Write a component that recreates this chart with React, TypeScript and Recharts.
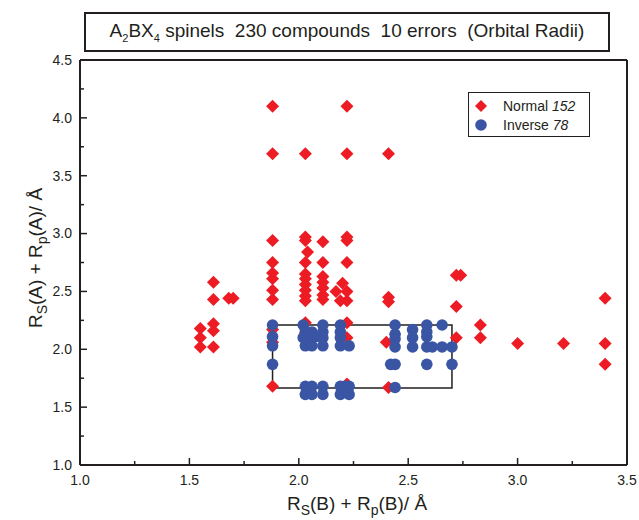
import {
  ScatterChart,
  Scatter,
  XAxis,
  YAxis,
  ReferenceArea,
  Legend
} from 'recharts';

// R_s(B) + R_p(B) (x) and R_s(A) + R_p(A) (y) for each compound, in Å
const normalB = [
  1.55, 1.55, 1.55,
  1.61, 1.61, 1.61, 1.61, 1.61,
  1.68, 1.70,
  1.88, 1.88, 1.88, 1.88, 1.88, 1.88, 1.88, 1.88, 1.88, 1.88, 1.88,
  2.03, 2.03, 2.03, 2.04, 2.03, 2.03, 2.03, 2.03, 2.03, 2.03, 2.03, 2.03, 2.03,
  2.11, 2.11, 2.11, 2.11, 2.11, 2.11, 2.11,
  2.22, 2.22, 2.22, 2.22, 2.22, 2.20, 2.22, 2.22, 2.22, 2.22, 2.22,
  2.17, 2.19,
  2.41, 2.41, 2.41, 2.40, 2.41,
  2.72, 2.74, 2.72, 2.72,
  2.83, 2.83,
  3.00, 3.21,
  3.40, 3.40, 3.40
];
const normalA = [
  2.18, 2.10, 2.02,
  2.58, 2.43, 2.22, 2.16, 2.02,
  2.44, 2.44,
  4.10, 3.69, 2.94, 2.75, 2.66, 2.61, 2.51, 2.43, 2.17, 2.06, 1.68,
  3.69, 2.97, 2.94, 2.84, 2.75, 2.65, 2.61, 2.56, 2.51, 2.46, 2.42, 2.23, 2.14,
  2.93, 2.75, 2.63, 2.58, 2.53, 2.47, 2.43,
  4.10, 3.69, 2.97, 2.94, 2.75, 2.57, 2.50, 2.42, 2.23, 2.10, 1.70,
  2.50, 2.42,
  3.69, 2.45, 2.41, 2.06, 1.67,
  2.64, 2.64, 2.37, 2.10,
  2.21, 2.10,
  2.05, 2.05,
  2.44, 2.05, 1.87
];

const inverseB = [
  1.88, 1.88, 1.88, 1.88,
  2.02, 2.03, 2.02, 2.03, 2.03, 2.03,
  2.06, 2.06, 2.06, 2.06, 2.06,
  2.08,
  2.11, 2.11, 2.11, 2.11, 2.11, 2.11,
  2.19, 2.19, 2.19, 2.19, 2.19, 2.19,
  2.23, 2.23, 2.23, 2.21,
  2.44, 2.44, 2.44, 2.44, 2.44, 2.44, 2.42,
  2.52, 2.52, 2.52,
  2.585, 2.585, 2.585, 2.585, 2.585,
  2.61,
  2.655, 2.655,
  2.70, 2.70
];
const inverseA = [
  2.21, 2.11, 2.03, 1.87,
  2.21, 2.16, 2.10, 2.03, 1.68, 1.61,
  2.15, 2.10, 2.03, 1.68, 1.61,
  2.11,
  2.21, 2.15, 2.10, 2.03, 1.68, 1.61,
  2.21, 2.15, 2.10, 2.03, 1.68, 1.61,
  2.03, 1.68, 1.61, 1.68,
  2.21, 2.13, 2.09, 2.02, 1.87, 1.67, 1.87,
  2.17, 2.10, 2.02,
  2.21, 2.11, 2.02, 1.87, 2.15,
  2.02,
  2.21, 2.02,
  2.02, 1.87
];

const xTicks = [1.0, 1.25, 1.5, 1.75, 2.0, 2.25, 2.5, 2.75, 3.0, 3.25, 3.5];
const yTicks = [1.0, 1.25, 1.5, 1.75, 2.0, 2.25, 2.5, 2.75, 3.0, 3.25, 3.5, 3.75, 4.0, 4.25, 4.5];

// the box drawn round the inverse region
const boxB = [1.88, 2.70];
const boxA = [1.665, 2.21];

const seriesOrder = ['Normal', 'Inverse'];
const counts: Record<string, number> = { Normal: 152, Inverse: 78 };

const normalData = normalB.map((b, i) => ({ b, a: normalA[i] }));
const inverseData = inverseB.map((b, i) => ({ b, a: inverseA[i] }));

const RED = '#ED1C24';
const BLUE = '#3A55A4';
const INK = '#231F20';
const FONT = '"Liberation Sans", Arial, sans-serif';

const isMajor = (v: number) => Math.abs(v * 2 - Math.round(v * 2)) < 1e-6;

const Diamond = ({ cx, cy }: any) => (
  <path d={`M${cx},${cy - 6.5}L${cx + 6.5},${cy}L${cx},${cy + 6.5}L${cx - 6.5},${cy}Z`} fill={RED} />
);
const Dot = ({ cx, cy }: any) => <circle cx={cx} cy={cy} r={5.8} fill={BLUE} />;

const BottomTick = ({ x, y, payload }: any) => {
  const major = isMajor(payload.value);
  return (
    <g>
      <line x1={x} x2={x} y1={y} y2={y - (major ? 7 : 4)} stroke={INK} strokeWidth={1.5} />
      {major && (
        <text x={x} y={y + 20} textAnchor="middle" fontSize={14} fill={INK} fontFamily={FONT}>
          {payload.value.toFixed(1)}
        </text>
      )}
    </g>
  );
};
const TopTick = ({ x, y, payload }: any) => (
  <line x1={x} x2={x} y1={y} y2={y + (isMajor(payload.value) ? 7 : 4)} stroke={INK} strokeWidth={1.5} />
);
const LeftTick = ({ x, y, payload }: any) => {
  const major = isMajor(payload.value);
  return (
    <g>
      <line x1={x} x2={x + (major ? 7 : 4)} y1={y} y2={y} stroke={INK} strokeWidth={1.5} />
      {major && (
        <text x={x - 8} y={y} dy="0.35em" textAnchor="end" fontSize={14} fill={INK} fontFamily={FONT}>
          {payload.value.toFixed(1)}
        </text>
      )}
    </g>
  );
};
const RightTick = ({ x, y, payload }: any) => (
  <line x1={x} x2={x - (isMajor(payload.value) ? 7 : 4)} y1={y} y2={y} stroke={INK} strokeWidth={1.5} />
);

const LegendBox = ({ payload }: any) => {
  const items = [...(payload || [])].sort(
    (p: any, q: any) => seriesOrder.indexOf(p.value) - seriesOrder.indexOf(q.value)
  );
  return (
    <div style={{ border: `1px solid ${INK}`, width: 120, padding: '3px 0 2px 0', background: '#fff', fontFamily: FONT, fontSize: 14, color: INK }}>
      {items.map((p: any) => (
        <div key={p.value} style={{ display: 'flex', alignItems: 'center', height: 19 }}>
          <svg width={24} height={18}>
            {p.value === 'Normal' ? (
              <path d="M12,3L18,9L12,15L6,9Z" fill={RED} />
            ) : (
              <circle cx={12} cy={9} r={5.8} fill={BLUE} />
            )}
          </svg>
          <span style={{ marginLeft: 10 }}>
            {p.value} <i>{counts[p.value]}</i>
          </span>
        </div>
      ))}
    </div>
  );
};

export default function App() {
  return (
    <div style={{ position: 'absolute', left: 0, top: 0, width: 639, height: 520, background: '#fff' }}>
      <div
        style={{
          position: 'absolute', left: 84, top: 12, width: 522, height: 36,
          border: `2px solid ${INK}`, fontFamily: FONT, fontSize: 19, color: INK,
          display: 'flex', alignItems: 'center', justifyContent: 'center', whiteSpace: 'pre'
        }}
      >
        <span>
          A<sub style={{ fontSize: 11, verticalAlign: -5 }}>2</sub>BX<sub style={{ fontSize: 11, verticalAlign: -5 }}>4</sub>
          {' spinels  230 compounds  10 errors  (Orbital Radii)'}
        </span>
      </div>
      <ScatterChart width={639} height={520} margin={{ top: 59, right: 11, bottom: 0, left: 0 }}>
        <XAxis
          xAxisId="bottom" dataKey="b" type="number" domain={[1, 3.5]} ticks={xTicks} interval={0}
          height={55} tickSize={0} tickMargin={0} tick={<BottomTick />}
          axisLine={{ stroke: INK, strokeWidth: 2 }}
        />
        <XAxis
          xAxisId="top" orientation="top" dataKey="b" type="number" domain={[1, 3.5]} ticks={xTicks} interval={0}
          height={1} tickSize={0} tickMargin={0} tick={<TopTick />}
          axisLine={{ stroke: INK, strokeWidth: 2 }}
        />
        <YAxis
          yAxisId="left" dataKey="a" type="number" domain={[1, 4.5]} ticks={yTicks} interval={0}
          width={80} tickSize={0} tickMargin={0} tick={<LeftTick />}
          axisLine={{ stroke: INK, strokeWidth: 2 }}
        />
        <YAxis
          yAxisId="right" orientation="right" dataKey="a" type="number" domain={[1, 4.5]} ticks={yTicks} interval={0}
          width={1} tickSize={0} tickMargin={0} tick={<RightTick />}
          axisLine={{ stroke: INK, strokeWidth: 2 }}
        />
        <Legend
          layout="horizontal"
          verticalAlign="middle"
          align="center"
          content={<LegendBox />}
          wrapperStyle={{ position: 'absolute', top: 92, left: 468, width: 122 }}
        />
        <Scatter name="Normal" data={normalData} xAxisId="bottom" yAxisId="left" fill={RED} shape={<Diamond />} legendType="diamond" isAnimationActive={false} />
        <Scatter name="Inverse" data={inverseData} xAxisId="bottom" yAxisId="left" fill={BLUE} shape={<Dot />} legendType="circle" isAnimationActive={false} />
        <ReferenceArea
          xAxisId="bottom" yAxisId="left" x1={boxB[0]} x2={boxB[1]} y1={boxA[0]} y2={boxA[1]}
          fill="none" fillOpacity={0} stroke={INK} strokeWidth={1.5} ifOverflow="visible"
        />
      </ScatterChart>
      <svg width={639} height={520} style={{ position: 'absolute', left: 0, top: 0, pointerEvents: 'none' }}>
        <text x={357} y={510} textAnchor="middle" fontSize={19} fill={INK} fontFamily={FONT}>
          R<tspan fontSize={14} dy={5}>S</tspan><tspan dy={-5}>(B) + R</tspan><tspan fontSize={14} dy={5}>p</tspan><tspan dy={-5}>(B)/ Å</tspan>
        </text>
        <text x={42} y={258} transform="rotate(-90 42 258)" textAnchor="middle" fontSize={19} fill={INK} fontFamily={FONT}>
          R<tspan fontSize={14} dy={5}>S</tspan><tspan dy={-5}>(A) + R</tspan><tspan fontSize={14} dy={5}>p</tspan><tspan dy={-5}>(A)/ Å</tspan>
        </text>
      </svg>
    </div>
  );
}
